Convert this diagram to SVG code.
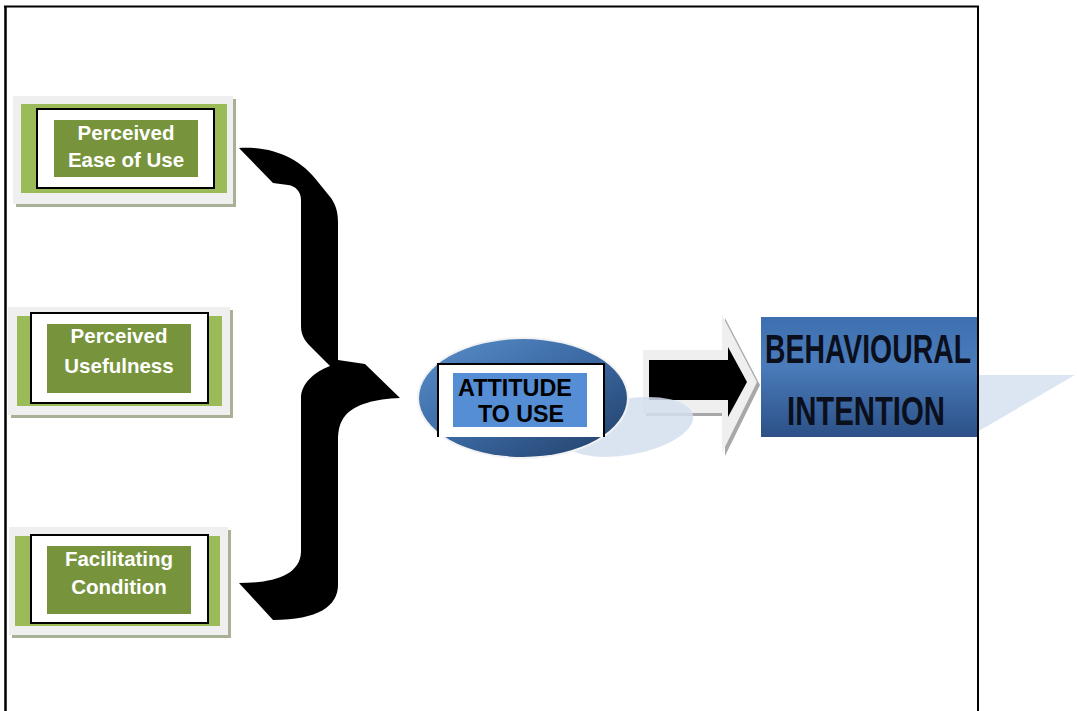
<svg xmlns="http://www.w3.org/2000/svg" width="1077" height="711" viewBox="0 0 1077 711">
<defs>
<linearGradient id="gEll" x1="0" y1="0" x2="1" y2="1">
<stop offset="0" stop-color="#5A8FCB"/>
<stop offset="0.5" stop-color="#3A68A2"/>
<stop offset="1" stop-color="#223E66"/>
</linearGradient>
<linearGradient id="gBeh" x1="0" y1="0" x2="0" y2="1">
<stop offset="0" stop-color="#3E6FAE"/>
<stop offset="0.4" stop-color="#4A7CBC"/>
<stop offset="1" stop-color="#2C5086"/>
</linearGradient>
<style>
.outer{fill:#EFEFEF}
.shadow{fill:#A8B096}
.lg{fill:#9BBB59}
.wb{fill:#FFFFFF;stroke:#000;stroke-width:2}
.dg{fill:#77933C}
.nt{font-family:"Liberation Sans",Arial,sans-serif;font-weight:bold;font-size:20.5px;fill:#FFFFFF;text-anchor:middle}
.at{font-family:"Liberation Sans",Arial,sans-serif;font-weight:bold;font-size:23px;fill:#000;text-anchor:middle}
.bt{font-family:"Liberation Sans",Arial,sans-serif;font-weight:bold;font-size:40px;fill:#0B0F1C;text-anchor:middle}
</style>
</defs>
<rect width="1077" height="711" fill="#FFFFFF"/>
<g id="frame">
<line x1="4" y1="6.5" x2="979" y2="6.5" stroke="#000" stroke-width="2"/>
<line x1="5.5" y1="6" x2="5.5" y2="711" stroke="#000" stroke-width="2.5"/>
<line x1="978" y1="6" x2="978" y2="711" stroke="#000" stroke-width="2"/>
</g>
<g id="node-peou">
<rect class="shadow" x="16" y="99" width="220" height="108"/>
<rect class="outer" x="13" y="96" width="220" height="108"/>
<rect class="lg" x="21" y="104" width="206" height="89"/>
<rect class="wb" x="37" y="109" width="177" height="79"/>
<rect class="dg" x="54" y="120" width="144" height="57"/>
<text class="nt" x="126" y="140">Perceived</text>
<text class="nt" x="126" y="167">Ease of Use</text>
</g>
<g id="node-pu">
<rect class="shadow" x="11" y="310" width="222" height="108"/>
<rect class="outer" x="8" y="307" width="222" height="108"/>
<rect class="lg" x="17" y="316" width="205" height="90"/>
<rect class="wb" x="31" y="313" width="177" height="90"/>
<rect class="dg" x="47" y="324" width="144" height="69"/>
<text class="nt" x="119" y="343">Perceived</text>
<text class="nt" x="119" y="373">Usefulness</text>
</g>
<g id="node-fc">
<rect class="shadow" x="12" y="530" width="219" height="108"/>
<rect class="outer" x="9" y="527" width="219" height="108"/>
<rect class="lg" x="15" y="536" width="205" height="90"/>
<rect class="wb" x="31" y="535" width="177" height="88"/>
<rect class="dg" x="47" y="546" width="144" height="68"/>
<text class="nt" x="119" y="566">Facilitating</text>
<text class="nt" x="119" y="594">Condition</text>
</g>
<g id="connectors">
<path id="brace" fill="#000" d="M239,148 C272,146 300,158 318,182 L331,198 C336,205 338,213 338,222 L338,360 L365,364 L400,398 C375,399 355,404 345,416 C340,422 338,430 338,440 L338,585 C338,606 318,620 273,620 L239,583 C272,583 300,576 301,552 L301,398 C301,384 314,372 330,366 L310,346 C304,340 301,334 301,326 L301,200 C301,192 296,186 288,185 L273,183 Z"/>
<g id="arrow">
<path fill="#A8A8A8" d="M646,353 L725,353 L725,318 L760,385 L725,456 L725,416 L646,416 Z"/>
<path fill="#EFEFEF" d="M643,350 L722,350 L722,315 L757,382 L722,453 L722,413 L643,413 Z"/>
<path fill="#000" d="M649,360 L728,360 L728,347 L747,382 L728,417 L728,400 L649,400 Z"/>
</g>
</g>
<g id="node-attitude">
<ellipse cx="627" cy="427" rx="67" ry="28" transform="rotate(-10 627 427)" fill="#D3DFEE" opacity="0.85"/>
<ellipse cx="523" cy="398" rx="106" ry="61" fill="#F2F2F2"/>
<ellipse cx="523" cy="398" rx="104" ry="59" fill="url(#gEll)"/>
<path d="M438,437 L438,364 L604,364 L604,437 Z" fill="#FFFFFF"/>
<path d="M438,437 L438,364 L604,364 L604,437" fill="none" stroke="#000" stroke-width="2"/>
<rect x="453" y="373" width="134" height="54" fill="#558ED5"/>
<text class="at" x="515" y="396" textLength="114" lengthAdjust="spacingAndGlyphs">ATTITUDE</text>
<text class="at" x="521" y="422" textLength="86" lengthAdjust="spacingAndGlyphs">TO USE</text>
</g>
<g id="node-behavioural">
<polygon points="977,375 1075,375 977,432" fill="#DCE6F2"/>
<rect x="761" y="317" width="216" height="120" fill="url(#gBeh)"/>
<text class="bt" x="868" y="363" textLength="206" lengthAdjust="spacingAndGlyphs">BEHAVIOURAL</text>
<text class="bt" x="866" y="425" textLength="158" lengthAdjust="spacingAndGlyphs">INTENTION</text>
<line x1="978" y1="317" x2="978" y2="437" stroke="#000" stroke-width="2"/>
</g>
</svg>
